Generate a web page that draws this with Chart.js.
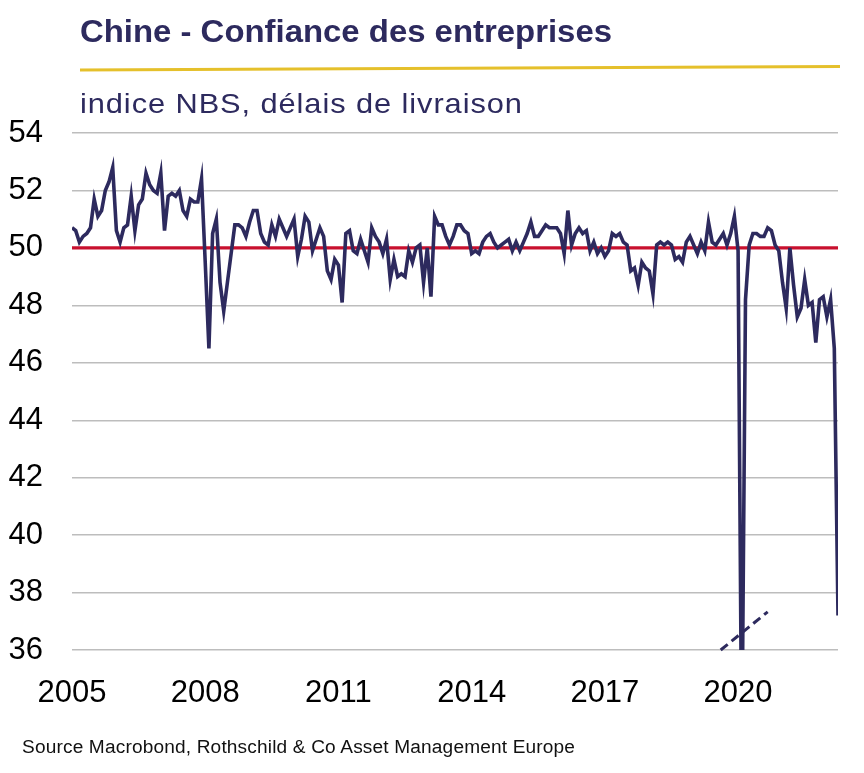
<!DOCTYPE html>
<html>
<head>
<meta charset="utf-8">
<script src="https://cdn.jsdelivr.net/npm/chart.js@4.4.1/dist/chart.umd.min.js"></script>
<style>
  html, body { margin: 0; padding: 0; background: #ffffff; overflow: hidden; }
  #wrap { position: relative; width: 864px; height: 773px; }
  #chartBox { position: absolute; left: 0; top: 0; width: 864px; height: 773px; }
  .txt { position: absolute; white-space: nowrap; font-family: "Liberation Sans", Arial, sans-serif; line-height: 1; transform-origin: 0 0; }
  #title { font-weight: bold; color: #2d2a5e; }
  #subtitle { color: #2d2a5e; }
  #source { color: #111111; }
  #rule { position: absolute; left: 0; top: 0; }
</style>
</head>
<body>
<div id="wrap">
  <div id="chartBox"><canvas id="c"></canvas></div>
  <svg id="rule" width="864" height="120"><line x1="80" y1="70" x2="840" y2="66.5" stroke="#e5c02b" stroke-width="3.2"/></svg>
  <div class="txt" id="title">Chine - Confiance des entreprises</div>
  <div class="txt" id="subtitle">indice NBS, délais de livraison</div>
  <div class="txt" id="source">Source Macrobond, Rothschild &amp; Co Asset Management Europe</div>
</div>
<script>
// ---- Data: NBS PMI, suppliers' delivery times (monthly, Jan 2005 - Apr 2022) ----
const startYear = 2005;
const y2005 = [50.7, 50.6, 50.2, 50.4, 50.5, 50.7, 51.7, 51.1, 51.3, 52.0, 52.3, 52.8];
const y2006 = [50.6, 50.2, 50.7, 50.8, 51.8, 50.6, 51.5, 51.7, 52.6, 52.2, 52.0, 51.9];
const y2007 = [52.6, 50.6, 51.8, 51.9, 51.8, 52.0, 51.3, 51.1, 51.7, 51.6, 51.6, 52.4];
const y2008 = [49.5, 46.5, 50.5, 51.0, 48.8, 47.8, 48.8, 49.8, 50.8, 50.8, 50.7, 50.4];
const y2009 = [50.9, 51.3, 51.3, 50.5, 50.2, 50.1, 50.8, 50.4, 51.0, 50.7, 50.4, 50.7];
const y2010 = [51.0, 49.7, 50.3, 51.1, 50.9, 49.9, 50.3, 50.7, 50.4, 49.2, 48.9, 49.6];
const y2011 = [49.4, 48.1, 50.5, 50.6, 49.9, 49.8, 50.3, 49.9, 49.5, 50.7, 50.4, 50.2];
const y2012 = [49.8, 50.3, 48.9, 49.6, 49.0, 49.1, 49.0, 49.9, 49.5, 50.0, 50.1, 48.8];
const y2013 = [50.0, 48.3, 51.1, 50.8, 50.8, 50.4, 50.1, 50.4, 50.8, 50.8, 50.6, 50.5];
const y2014 = [49.8, 49.9, 49.8, 50.2, 50.4, 50.5, 50.2, 50.0, 50.1, 50.2, 50.3, 49.9];
const y2015 = [50.2, 49.9, 50.2, 50.5, 50.9, 50.4, 50.4, 50.6, 50.8, 50.7, 50.7, 50.7];
const y2016 = [50.5, 49.8, 51.3, 50.1, 50.5, 50.7, 50.5, 50.6, 49.9, 50.2, 49.8, 50.0];
const y2017 = [49.7, 49.9, 50.5, 50.4, 50.5, 50.2, 50.1, 49.2, 49.3, 48.7, 49.5, 49.3];
const y2018 = [49.2, 48.4, 50.1, 50.2, 50.1, 50.2, 50.1, 49.6, 49.7, 49.5, 50.2, 50.4];
const y2019 = [50.1, 49.8, 50.2, 49.9, 50.9, 50.2, 50.1, 50.3, 50.5, 50.1, 50.5, 51.1];
const y2020 = [49.9, 32.1, 48.2, 50.1, 50.5, 50.5, 50.4, 50.4, 50.7, 50.6, 50.1, 49.9];
const y2021 = [48.8, 47.9, 50.0, 48.7, 47.6, 47.9, 48.9, 48.0, 48.1, 46.7, 48.2, 48.3];
const y2022 = [47.6, 48.2, 46.5, 37.2];

const yearTicks = [2005, 2008, 2011, 2014, 2017, 2020];
const yTicks = [36, 38, 40, 42, 44, 46, 48, 50, 52, 54];
const referenceLevel = 50;
// axis-break marker (in data units: months since Jan 2005, index value)
const breakMarkX = [175.3, 188.0];
const breakMarkY = [36.0, 37.33];

const series = [].concat(y2005, y2006, y2007, y2008, y2009, y2010, y2011, y2012, y2013,
  y2014, y2015, y2016, y2017, y2018, y2019, y2020, y2021, y2022);
const points = series.map((v, i) => ({ x: i, y: v }));
const lastIdx = series.length - 1;

const NAVY = '#2d2a5e';
const FONT = '"Liberation Sans", Arial, sans-serif';

// ---- text placement (baseline-based, width-fitted: mild stretch + spacing) ----
function placeText(id, size, left, baseline, targetWidth, weight, maxStretch) {
  const el = document.getElementById(id);
  el.style.fontSize = size + 'px';
  const cv = document.createElement('canvas').getContext('2d');
  cv.font = (weight || 'normal') + ' ' + size + 'px ' + FONT;
  const txt = el.textContent;
  const w = cv.measureText(txt).width;
  let sx = Math.min(targetWidth / w, maxStretch);
  const ls = (targetWidth / sx - w) / (txt.length - 1);
  el.style.letterSpacing = ls.toFixed(2) + 'px';
  el.style.transform = 'scaleX(' + sx.toFixed(4) + ')';
  el.style.left = left + 'px';
  el.style.top = (baseline - 0.8465 * size) + 'px';
}
placeText('title', 31, 80, 42, 532, 'bold', 1.07);
placeText('subtitle', 28.5, 80, 113.5, 442, 'normal', 1.08);
placeText('source', 18, 22, 753, 554, 'normal', 1.06);

new Chart(document.getElementById('c'), {
  type: 'line',
  data: {
    datasets: [
      {
        label: 'Délais de livraison',
        data: points,
        borderColor: NAVY,
        borderWidth: 3.6,
        pointRadius: 0,
        tension: 0,
        fill: false,
        order: 1
      },
      {
        label: 'Seuil 50',
        data: [{ x: 0, y: referenceLevel }, { x: lastIdx, y: referenceLevel }],
        borderColor: '#c8102e',
        borderWidth: 3.2,
        pointRadius: 0,
        fill: false,
        order: 2
      },
      {
        label: 'break',
        data: breakMarkX.map((x, i) => ({ x: x, y: breakMarkY[i] })),
        borderColor: NAVY,
        borderWidth: 3,
        borderDash: [9, 5],
        pointRadius: 0,
        fill: false,
        clip: false,
        order: 0
      }
    ]
  },
  options: {
    responsive: true,
    maintainAspectRatio: false,
    animation: false,
    events: [],
    layout: { padding: { top: 133, right: 26, bottom: 0, left: 0 } },
    plugins: { legend: { display: false }, tooltip: { enabled: false }, title: { display: false } },
    scales: {
      x: {
        type: 'linear',
        min: 0,
        max: lastIdx,
        grid: { display: false, drawTicks: false },
        border: { display: false },
        afterFit: (s) => { s.height = 123; },
        afterBuildTicks: (s) => { s.ticks = yearTicks.map(y => ({ value: (y - startYear) * 12 })); },
        ticks: {
          autoSkip: false,
          maxRotation: 0,
          padding: 25,
          color: '#000000',
          font: { family: FONT, size: 31 },
          callback: (v) => String(startYear + v / 12)
        }
      },
      y: {
        min: 36,
        max: 54,
        grid: { color: '#bdbdbd', lineWidth: 1.4, drawTicks: false },
        border: { display: false },
        afterFit: (s) => { s.width = 72; },
        afterBuildTicks: (s) => { s.ticks = yTicks.map(v => ({ value: v })); },
        ticks: {
          padding: 29,
          color: '#000000',
          font: { family: FONT, size: 31 },
          callback: (v) => String(v)
        }
      }
    }
  }
});
</script>
</body>
</html>
